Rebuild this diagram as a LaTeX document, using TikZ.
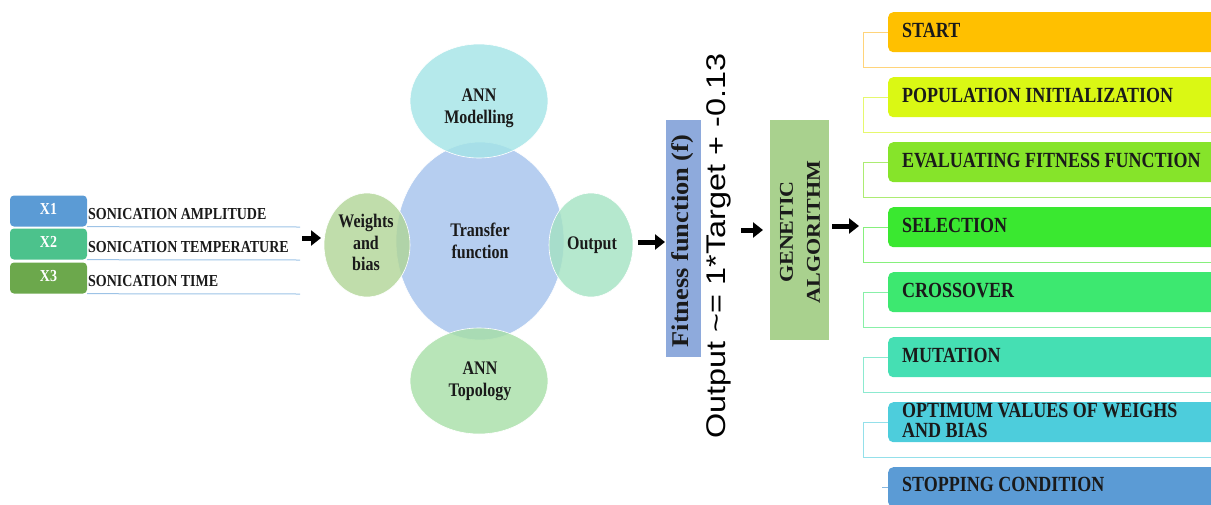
\documentclass[tikz,border=0pt]{standalone}
\usepackage{fontspec}
\usepackage{graphicx}
\setmainfont{Liberation Serif}
\newfontfamily\formfont{Liberation Sans}
\usetikzlibrary{arrows.meta,shapes.geometric}
\definecolor{cxa}{HTML}{5B9BD5}
\definecolor{cxb}{HTML}{4CC28C}
\definecolor{cxc}{HTML}{6CA84C}
\definecolor{cline}{HTML}{9DC3E6}
\definecolor{ccen}{HTML}{A4C2EC}
\definecolor{cmod}{HTML}{A3E4E6}
\definecolor{ctop}{HTML}{A6DFA6}
\definecolor{cwb}{HTML}{B0D596}
\definecolor{cout}{HTML}{A3E2C2}
\definecolor{cfit}{HTML}{8EAADC}
\definecolor{cga}{HTML}{A9D18E}
\definecolor{ca}{HTML}{FFC000}
\definecolor{cb}{HTML}{DAF814}
\definecolor{cc}{HTML}{86E42A}
\definecolor{cd}{HTML}{3AE830}
\definecolor{ce}{HTML}{3DE870}
\definecolor{cf}{HTML}{45DFB3}
\definecolor{cg}{HTML}{4DCDDC}
\definecolor{ch}{HTML}{5B9BD5}
\definecolor{txt}{HTML}{1A1A1A}
\newcommand\tallc[1]{\scalebox{1}[1.2]{\begin{tabular}{@{}c@{}}#1\end{tabular}}}
\newcommand\talll[1]{\scalebox{1}[1.2]{\begin{tabular}{@{}l@{}}#1\end{tabular}}}
\newcommand\longc[2]{\scalebox{#1}[1]{\begin{tabular}{@{}c@{}}#2\end{tabular}}}
\tikzset{
  xbox/.style={fill=#1, rounded corners=4pt, minimum width=77pt, minimum height=31pt, inner sep=0pt, text=white, font=\bfseries\fontsize{14}{14}\selectfont},
  inlabel/.style={anchor=west, inner sep=0pt, text=txt, font=\bfseries\fontsize{14}{14}\selectfont},
  blob/.style={ellipse, fill=#1, fill opacity=0.8, draw=white, line width=0.6pt, inner sep=0pt},
  blobtext/.style={text=txt, inner sep=0pt, font=\bfseries\fontsize{16}{18}\selectfont},
  bigarrow/.style={line width=5pt, -{Triangle[length=10pt,width=15pt]}},
  gabox/.style={fill=#1, rounded corners=5pt, minimum width=360pt, minimum height=40pt, inner sep=0pt, anchor=north west},
  galabel/.style={anchor=west, inner sep=0pt, text=txt, font=\bfseries\fontsize{18}{16}\selectfont},
  brk/.style={draw=#1, line width=1pt},
}
\begin{document}
\begin{tikzpicture}[x=1pt,y=-1pt]
\useasboundingbox (0,0) rectangle (1211,504);
\clip (0,0) rectangle (1211,504);
% inputs
\node[xbox=cxa] (x1) at (48.5,211) {\tallc{X1}};
\node[xbox=cxb] (x2) at (48.5,244) {\tallc{X2}};
\node[xbox=cxc] (x3) at (48.5,278) {\tallc{X3}};
\draw[cline, line width=1pt] (x1.south east) -- (300,227);
\draw[cline, line width=1pt] (x2.south east) -- (300,260);
\draw[cline, line width=1pt] (x3.south east) -- (300,294);
\node[inlabel] (l1) at (88,216) {\talll{SONICATION AMPLITUDE}};
\node[inlabel] (l2) at (88,249) {\talll{SONICATION TEMPERATURE}};
\node[inlabel] (l3) at (88,283) {\talll{SONICATION TIME}};
% ellipses
\node[blob=ccen, minimum width=168pt, minimum height=198pt] (tf) at (480,241) {};
\node[blob=cmod, minimum width=138pt, minimum height=114pt] (mod) at (479,101) {};
\node[blob=ctop, minimum width=138pt, minimum height=106pt] (top) at (479,381) {};
\node[blob=cwb, minimum width=86pt, minimum height=104pt] (wb) at (367,245) {};
\node[blob=cout, minimum width=84pt, minimum height=104pt] (out) at (591,245) {};
\node[blobtext] (modt) at (479,108) {\tallc{ANN\\Modelling}};
\node[blobtext] (topt) at (480,381) {\tallc{ANN\\Topology}};
\node[blobtext] (wbt) at (366,245) {\tallc{Weights\\and\\bias}};
\node[blobtext] (outt) at (592,245) {\tallc{Output}};
\node[blobtext] (tft) at (480,243) {\tallc{Transfer\\function}};
% fitness
\node[fill=cfit, minimum width=35pt, minimum height=237pt, inner sep=0pt] (fit) at (683.5,238.5) {};
\node[rotate=90, text=txt, inner sep=0pt, font=\bfseries\fontsize{24}{24}\selectfont] (fitt) at (684,241) {\longc{1.1}{Fitness function (f)}};
\node[rotate=90, text=black, inner sep=0pt, font=\formfont\fontsize{27}{27}\selectfont] (form) at (720,246) {\longc{1.2}{Output \textasciitilde= 1*Target + -0.13}};
% GA
\node[fill=cga, minimum width=59pt, minimum height=220pt, inner sep=0pt] (ga) at (799.5,230) {};
\node[rotate=90, text=txt, inner sep=0pt, font=\bfseries\fontsize{19.5}{27}\selectfont] (gat) at (801,232) {\longc{1.13}{GENETIC\\ALGORITHM}};
% arrows
\coordinate (a1s) at (302,238); \coordinate (a1e) at (321,238);
\coordinate (a2s) at (638,242); \coordinate (a2e) at (665,242);
\coordinate (a3s) at (741,230); \coordinate (a3e) at (763,230);
\coordinate (a4s) at (832,226); \coordinate (a4e) at (859,226);
\draw[bigarrow] (a1s) -- (a1e);
\draw[bigarrow] (a2s) -- (a2e);
\draw[bigarrow] (a3s) -- (a3e);
\draw[bigarrow] (a4s) -- (a4e);
% GA steps
\foreach \n/\t/\c/\lc/\lab in {
  sa/12/ca/FFD47A/START,
  sb/77/cb/E6F86E/POPULATION INITIALIZATION,
  sc/142/cc/ACEC72/EVALUATING FITNESS FUNCTION,
  sd/207/cd/86F07C/SELECTION,
  se/272/ce/88F0A8/CROSSOVER,
  sf/337/cf/8CEAD0/MUTATION,
  sg/402/cg/94E0EA/{OPTIMUM VALUES OF WEIGHS\\AND BIAS}}{
  \definecolor{tmpc}{HTML}{\lc}
  \draw[brk=tmpc] (888,\t+20) -- (863,\t+20) -- (863,\t+55) -- (1215,\t+55);
  \node[gabox=\c] (\n) at (888,\t) {};
  \node[galabel] at (902,\t+21) {\talll{\lab}};
}
\definecolor{tmpc}{HTML}{88B8E0}
\draw[brk=tmpc] (882,487) -- (888,487);
\node[gabox=ch] (sh) at (888,467) {};
\node[galabel] (sht) at (902,487) {\talll{STOPPING CONDITION}};
\end{tikzpicture}
\end{document}
